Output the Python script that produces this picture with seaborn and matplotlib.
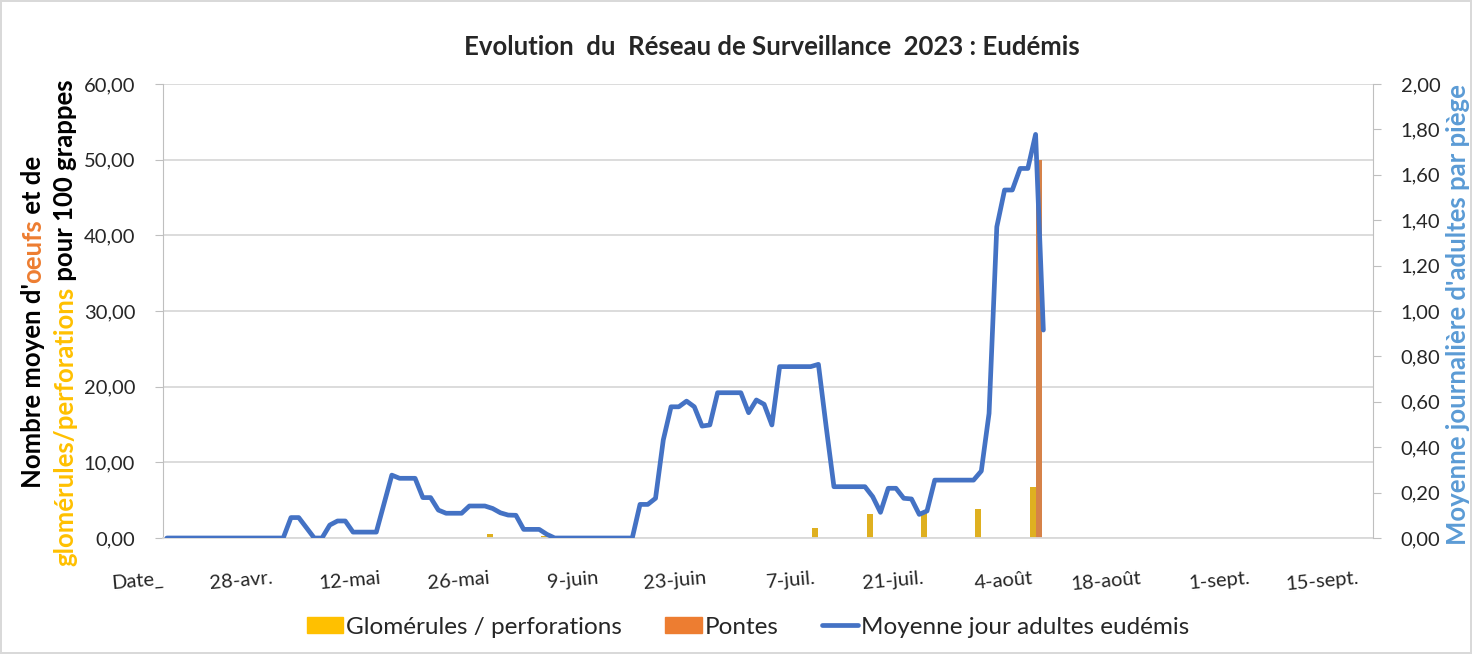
import numpy as np
import pandas as pd
import matplotlib
matplotlib.use("Agg")
import matplotlib.pyplot as plt
import seaborn as sns
from matplotlib.patches import Patch
from matplotlib.lines import Line2D
from matplotlib.ticker import MultipleLocator, FuncFormatter

# jours comptés à partir du 14 avril 2023
tick_days = [0, 14, 28, 42, 56, 70, 84, 98, 112, 126, 140, 154]
tick_labels = ["Date_", "28-avr.", "12-mai", "26-mai", "9-juin", "23-juin",
               "7-juil.", "21-juil.", "4-août", "18-août", "1-sept.", "15-sept."]

# glomérules / perforations et pontes (pour 100 grappes)
glom_days = [42, 49, 84, 91, 98, 105, 112]
glom_vals = [0.5, 0.2, 1.3, 3.2, 3.3, 3.8, 6.7]
pontes_days = [112]
pontes_vals = [50.0]

# moyenne jour adultes eudémis par piège
adult_days = [0, 15, 16, 17, 19, 20, 21, 22, 23, 24, 27, 29, 30, 32, 33, 34, 35, 36,
              38, 39, 41, 42, 43, 44, 45, 46, 48, 49, 50, 60, 61, 62, 63, 64, 65, 66,
              67, 68, 69, 70, 71, 74, 75, 76, 77, 78, 79, 83, 84, 85, 86, 90, 91, 92,
              93, 94, 95, 96, 97, 98, 99, 104, 105, 106, 107, 108, 109, 110, 111, 112, 113]
adult_vals = [0, 0, 0.09, 0.09, 0, 0, 0.057, 0.075, 0.075, 0.026, 0.026, 0.277, 0.263,
              0.263, 0.178, 0.178, 0.123, 0.109, 0.109, 0.141, 0.141, 0.13, 0.111, 0.101,
              0.10, 0.038, 0.038, 0.016, 0, 0, 0.148, 0.148, 0.175, 0.432, 0.578, 0.578,
              0.603, 0.578, 0.493, 0.498, 0.64, 0.64, 0.552, 0.608, 0.589, 0.498, 0.755,
              0.755, 0.765, 0.49, 0.226, 0.226, 0.182, 0.113, 0.219, 0.219, 0.175, 0.172,
              0.104, 0.119, 0.255, 0.255, 0.295, 0.549, 1.371, 1.533, 1.533, 1.628, 1.628,
              1.778, 0.916]

YELLOW = "#FFC000"
ORANGE = "#ED7D31"
BLUE = "#4472C4"
LIGHTBLUE = "#5B9BD5"
GRID = "#D9D9D9"
SPINE = "#BFBFBF"

sns.set_style("white")
plt.rcParams["font.family"] = ["Lato", "DejaVu Sans"]

bars = pd.DataFrame({
    "pos": np.array(glom_days + pontes_days) + 0.5,
    "val": glom_vals + pontes_vals,
    "serie": ["Glomérules / perforations"] * len(glom_days) + ["Pontes"] * len(pontes_days),
})
adults = pd.DataFrame({"pos": np.array(adult_days) + 0.5, "val": adult_vals})

W, H = 1472, 654
fig = plt.figure(figsize=(W / 100, H / 100), dpi=100, linewidth=1.5, edgecolor=GRID)
ax = fig.add_axes([163 / W, 1 - 538 / H, (1373 - 163) / W, (538 - 84) / H])

sns.barplot(data=bars, x="pos", y="val", hue="serie",
            hue_order=["Glomérules / perforations", "Pontes"],
            palette=[YELLOW, ORANGE], native_scale=True, width=0.22,
            errorbar=None, linewidth=0, legend=False, ax=ax)

ax.set_xlim(0, 156)
ax.set_ylim(0, 60)
ax.yaxis.set_major_locator(MultipleLocator(10))
ax.yaxis.set_major_formatter(FuncFormatter(lambda v, p: f"{v:.2f}".replace(".", ",")))
ax.grid(axis="y", color=GRID, lw=1.3)
ax.set_axisbelow(True)
ax.set_xticks(tick_days)
ax.set_xticklabels(tick_labels, rotation=5, ha="right", rotation_mode="anchor")
ax.tick_params(axis="x", length=6, color=GRID, pad=17, labelsize=14.5)
ax.tick_params(axis="y", length=6, color=SPINE, pad=14, labelsize=14.5, left=True)
ax.set_xlabel("")
ax.set_ylabel("")
for s in ["top", "right"]:
    ax.spines[s].set_visible(False)
ax.spines["left"].set_color(SPINE)
ax.spines["bottom"].set_color(GRID)
ax.spines["bottom"].set_linewidth(1.3)

ax2 = ax.twinx()
sns.lineplot(data=adults, x="pos", y="val", color=BLUE, lw=3.4, ax=ax2,
             solid_joinstyle="round", solid_capstyle="round")
ax2.set_ylim(0, 2)
ax2.yaxis.set_major_locator(MultipleLocator(0.2))
ax2.yaxis.set_major_formatter(FuncFormatter(lambda v, p: f"{v:.2f}".replace(".", ",")))
ax2.tick_params(axis="y", length=6, color=SPINE, pad=14, labelsize=14.5, right=True)
ax2.set_ylabel("")
ax2.set_xlabel("")
for s in ["top", "left", "bottom"]:
    ax2.spines[s].set_visible(False)
ax2.spines["right"].set_color(SPINE)

fig.text(772 / W, 1 - 47 / H, "Evolution  du  Réseau de Surveillance  2023 : Eudémis",
         ha="center", va="center", fontsize=18.5, fontweight="bold")

# titres d'axes en couleurs mélangées, écrits verticalement
renderer = fig.canvas.get_renderer()


def vertical_line(x_px, yc_px, pieces, size=18.5):
    texts = []
    for s, c in pieces:
        t = fig.text(0, 0, s, color=c, rotation=90, rotation_mode="anchor",
                     ha="left", va="baseline", fontsize=size, fontweight="bold")
        texts.append(t)
    lengths = [t.get_window_extent(renderer).height for t in texts]
    y = (H - yc_px) - sum(lengths) / 2
    for t, L in zip(texts, lengths):
        t.set_position((x_px / W, y / H))
        y += L


vertical_line(41, 322, [("Nombre moyen d'", "black"), ("oeufs", ORANGE), (" et de", "black")])
vertical_line(73, 323, [("glomérules/perforations", YELLOW), (" pour 100 grappes", "black")])
vertical_line(1466, 315, [("Moyenne journalière d'adultes par piège", LIGHTBLUE)])

handles = [Patch(color=YELLOW), Patch(color=ORANGE), Line2D([], [], color=BLUE, lw=3.4)]
labels = ["Glomérules / perforations", "Pontes", "Moyenne jour adultes eudémis"]
fig.legend(handles, labels, loc="center", bbox_to_anchor=(748 / W, 1 - 627 / H), ncol=3,
           frameon=False, fontsize=17.5, handlelength=1.5, handleheight=0.65,
           handletextpad=0.1, columnspacing=1.8)

fig.savefig("out.png", dpi=100)
